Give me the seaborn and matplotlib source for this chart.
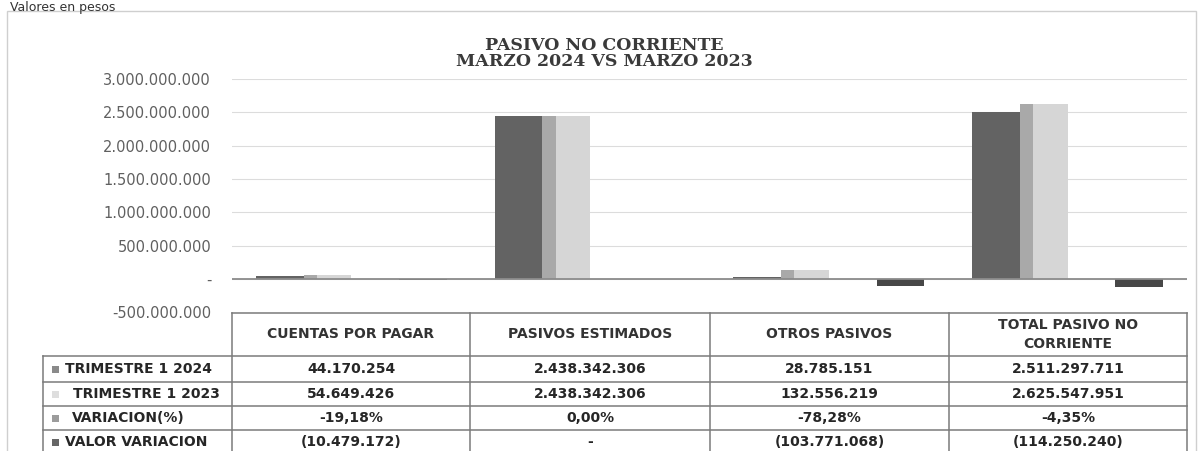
import matplotlib
matplotlib.use("Agg")
import matplotlib.pyplot as plt
import pandas as pd
import seaborn as sns
from matplotlib.lines import Line2D
from matplotlib.patches import Rectangle

# Data (valores en pesos)
categorias = ["CUENTAS POR PAGAR", "PASIVOS ESTIMADOS", "OTROS PASIVOS", "TOTAL PASIVO NO CORRIENTE"]
encabezados = ["CUENTAS POR PAGAR", "PASIVOS ESTIMADOS", "OTROS PASIVOS", "TOTAL PASIVO NO\nCORRIENTE"]
series = ["TRIMESTRE 1 2024", "TRIMESTRE 1 2023", "VARIACION(%)", "VALOR VARIACION"]
trimestre_2024 = [44170254, 2438342306, 28785151, 2511297711]
trimestre_2023 = [54649426, 2438342306, 132556219, 2625547951]
variacion_pct = [-19.18, 0.00, -78.28, -4.35]
valor_variacion = [-10479172, 0, -103771068, -114250240]
colores = ["#636363", "#d6d6d6", "#a6a6a6", "#474747"]
colores_clave = ["#8a8a8a", "#dedede", "#9c9c9c", "#666666"]

W, H = 1202, 451


def fx(px):
    return px / W


def fy(py):
    return 1 - py / H


def miles(v):
    if v == 0:
        return "-"
    s = f"{abs(v):,.0f}".replace(",", ".")
    return f"({s})" if v < 0 else s


def pct(p):
    return f"{p:.2f}%".replace(".", ",")


df = pd.DataFrame({
    "categoria": categorias * 4,
    "serie": [s for s in series for _ in categorias],
    "valor": trimestre_2024 + trimestre_2023 + [p / 100 for p in variacion_pct] + valor_variacion,
})

fig = plt.figure(figsize=(W / 100, H / 100), dpi=100)
ax = fig.add_axes([fx(232), fy(312.5), fx(1187) - fx(232), fy(79) - fy(312.5)])

sns.barplot(data=df, x="categoria", y="valor", hue="serie", order=categorias, hue_order=series,
            palette=colores, saturation=1, width=0.8, errorbar=None, legend=False, ax=ax)

# shaded left edge on the 2023 bars, as in the scanned chart
for p in ax.patches[4:8]:
    ax.add_patch(Rectangle((p.get_x(), 0), p.get_width() * 0.28, p.get_height(),
                           color="#a9a9a9", lw=0, zorder=p.get_zorder()))

ax.set_xlim(-0.5, 3.5)
ax.set_ylim(-5e8, 3e9)
ax.set_yticks([-5e8, 0, 5e8, 1e9, 1.5e9, 2e9, 2.5e9, 3e9])
ax.set_yticklabels(["-500.000.000" if t < 0 else miles(t) for t in ax.get_yticks()])
ax.set_xticks([])
ax.set_xlabel("")
ax.set_ylabel("")
ax.tick_params(axis="y", length=0, pad=15, labelsize=10.5, labelcolor="#606060")
ax.grid(axis="y", color="#dcdcdc", lw=0.8)
ax.set_axisbelow(True)
ax.axhline(0, color="#8c8c8c", lw=1.3, zorder=1)
for s in ax.spines.values():
    s.set_visible(False)

# chart frame and captions
fig.add_artist(Rectangle((fx(7), fy(470)), fx(1196) - fx(7), fy(11) - fy(470),
                         transform=fig.transFigure, fill=False, ec="#cfcfcf", lw=1))
fig.text(fx(10), fy(1), "Valores en pesos", fontsize=9, color="#333333", va="top")
fig.text(fx(604), fy(50), "PASIVO NO CORRIENTE", family="DejaVu Serif", weight="bold",
         fontsize=12.5, color="#3a3a3a", ha="center", va="baseline")
fig.text(fx(604), fy(66), "MARZO 2024 VS MARZO 2023", family="DejaVu Serif", weight="bold",
         fontsize=12.5, color="#3a3a3a", ha="center", va="baseline")

# data table
col_x = [232, 470, 710, 949, 1187]
fila_y = [356, 382, 406, 430, 454]
borde = "#7a7a7a"


def linea(x0, y0, x1, y1):
    fig.add_artist(Line2D([fx(x0), fx(x1)], [fy(y0), fy(y1)], transform=fig.transFigure,
                          color=borde, lw=1.1))


linea(col_x[0], 313, col_x[-1], 313)
for x in col_x:
    linea(x, 313, x, 460)
linea(43, fila_y[0], 43, 460)
for y in fila_y[:-1]:
    linea(43, y, col_x[-1], y)

for i, enc in enumerate(encabezados):
    fig.text(fx((col_x[i] + col_x[i + 1]) / 2), fy(334.5), enc, ha="center", va="center",
             fontsize=10, weight="bold", color="#333333", linespacing=1.4)

filas = [
    [miles(v) for v in trimestre_2024],
    [miles(v) for v in trimestre_2023],
    [pct(p) for p in variacion_pct],
    [miles(v) for v in valor_variacion],
]
sangria = [65, 73, 72, 65]
for r, (nombre, valores) in enumerate(zip(series, filas)):
    yc = (fila_y[r] + fila_y[r + 1]) / 2
    fig.add_artist(Rectangle((fx(52), fy(yc + 3.5)), fx(7), 7 / H, transform=fig.transFigure,
                             color=colores_clave[r], lw=0))
    fig.text(fx(sangria[r]), fy(yc), nombre, ha="left", va="center", fontsize=10,
             weight="bold", color="#262626")
    for i, txt in enumerate(valores):
        fig.text(fx((col_x[i] + col_x[i + 1]) / 2), fy(yc), txt, ha="center", va="center",
                 fontsize=10, weight="bold", color="#262626")

fig.savefig("out.png", dpi=100)
